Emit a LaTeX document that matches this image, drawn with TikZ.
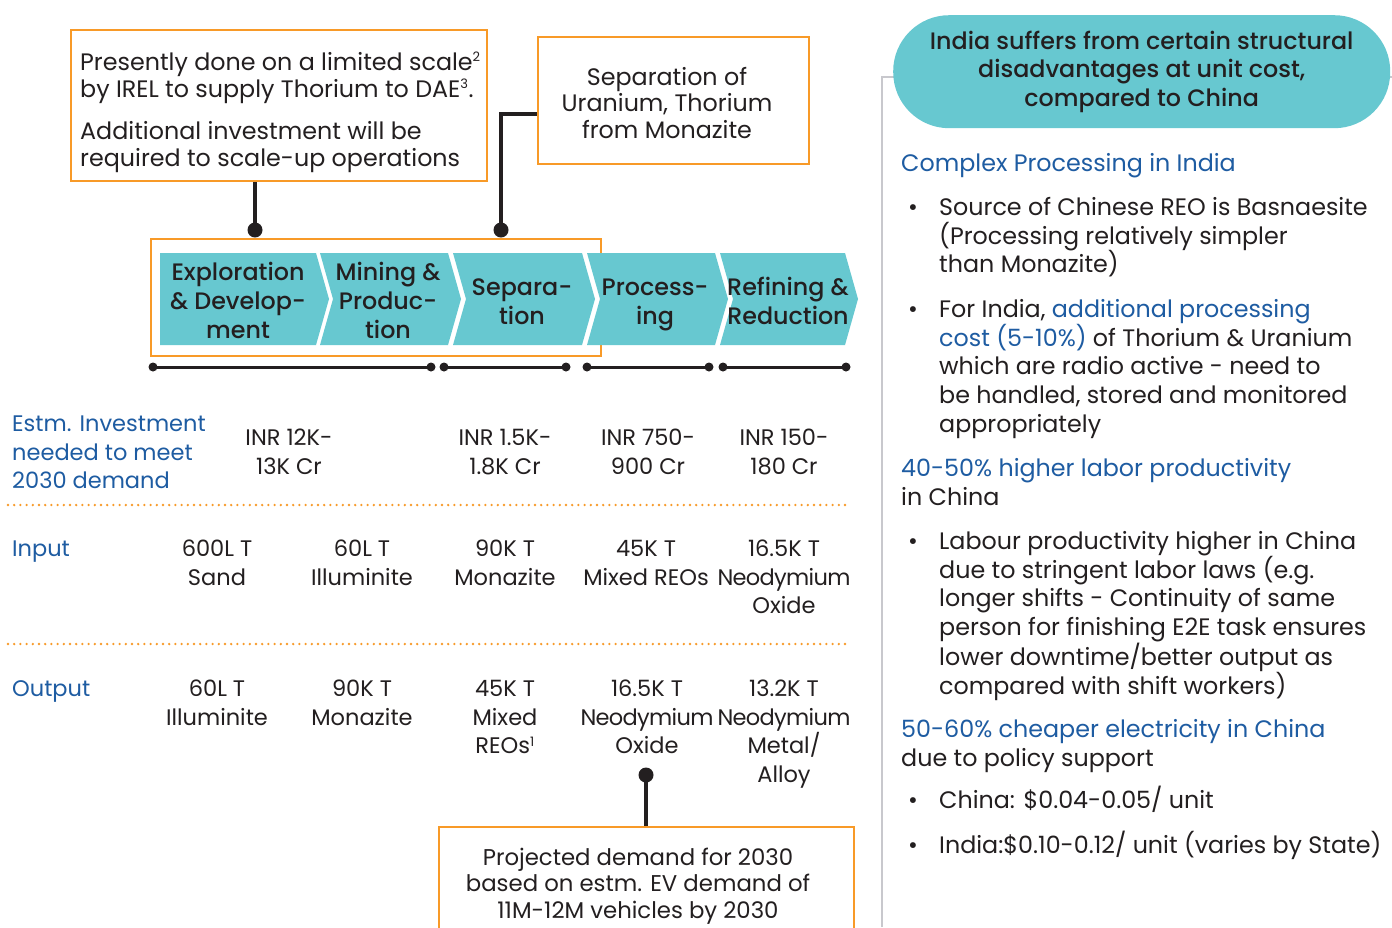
\documentclass[tikz,border=0pt]{standalone}
\usepackage{fontspec}
\setmainfont{Poppins}
\IfFontExistsTF{Poppins Medium}
  {\newfontfamily\medfont{Poppins Medium}}
  {\newfontfamily\medfont{Poppins}[FakeBold=0.6]}
\usetikzlibrary{calc}

\definecolor{teal}{RGB}{103,200,208}
\definecolor{orng}{RGB}{248,154,40}
\definecolor{hblue}{RGB}{30,92,162}
\definecolor{ink}{RGB}{35,31,32}
\definecolor{panelgray}{RGB}{200,200,205}

% body type with a fixed line pitch
\newcommand\fsz{\fontsize{23.8pt}{28.8pt}\selectfont}
\newcommand\ftab{\fontsize{22.5pt}{28.8pt}\selectfont}
\newcommand\fszbox{\fontsize{23.8pt}{26.6pt}\selectfont}
\newcommand\fszdem{\fontsize{22.8pt}{26.6pt}\selectfont}
\newcommand\fszchev{\medfont\fontsize{23.8pt}{29pt}\selectfont}
\newcommand\fszpill{\medfont\fontsize{23.8pt}{28.5pt}\selectfont}
% strut that fixes the top of the first line 20pt above its baseline
\newcommand\fr{\rule{0pt}{20pt}}
% small footnote marks
\newcommand\fnm[1]{\textsuperscript{\fontsize{13pt}{13pt}\selectfont #1}}
% tightly set product name for the narrow table columns
\newcommand\neo{{\addfontfeature{LetterSpace=-3}Neodymium}}

\tikzset{
  txt/.style={inner sep=0pt, text=ink, font=\fsz},
  ml/.style={txt, align=center, anchor=north, yshift=4pt},
  mlw/.style={txt, align=left, anchor=north west, yshift=4pt},
  cell/.style={ml, font=\ftab},
  obox/.style={draw=orng, line width=2pt, inner sep=0pt, anchor=north west},
  chev/.style={fill=teal},
  chtxt/.style={ml, font=\fszchev},
  link/.style={draw=ink, line width=3.5pt},
  tl/.style={draw=ink, line width=3pt},
  sep/.style={draw=orng, line width=2.6pt, line cap=round, dash pattern=on 0pt off 6.2pt},
  lbl/.style={mlw, text=hblue},
  rowlbl/.style={lbl, font=\ftab},
}

\begin{document}
\begin{tikzpicture}[x=1pt, y=-1pt]
\clip (0,0) rectangle (1392,927);
\fill[white] (0,0) rectangle (1392,927);

% ---------- call-out boxes above the value chain ----------
\node[obox, minimum width=416pt, minimum height=151pt] (note1) at (70,29) {};
\node[mlw] (note1txt) at (80,54) {\fr Presently done on a limited scale\fnm{2}\\[-1.8pt]
  by IREL to supply Thorium to DAE\fnm{3}.\\[13.2pt]
  Additional investment will be\\[-1.8pt] required to scale-up operations};

\node[obox, minimum width=271pt, minimum height=127pt] (note2) at (537,36) {};
\node[ml, font=\fszbox] (note2txt) at (667,69) {\fr Separation of\\ Uranium, Thorium\\ from Monazite};

% ---------- value chain ----------
\node[obox, minimum width=450pt, minimum height=117pt] (frame) at (150,238) {};

\coordinate (dot1) at (255,230);
\coordinate (dot2) at (501,230);
\draw[link] (dot1) -- (dot1 |- note1.south);
\draw[link] (dot2) |- ([yshift=-13.5pt]note2.west);
\fill[ink] (dot1) circle (7.5pt);
\fill[ink] (dot2) circle (7.5pt);

\fill[chev] (160,253) -- (316,253) -- (329,299) -- (316,345) -- (160,345) -- cycle;
\foreach \l/\r in {320/448, 453/582, 587/715, 720/845}{
  \fill[chev] (\l,253) -- (\r,253) -- (\r+13,299) -- (\r,345) -- (\l,345) -- (\l+13,299) -- cycle;
}
\node[chtxt] (c1) at (238,264) {\fr Exploration\\ \& Develop-\\ ment};
\node[chtxt] (c2) at (388,264) {\fr Mining \&\\ Produc-\\ tion};
\node[chtxt] (c3) at (522,279) {\fr Separa-\\ tion};
\node[chtxt] (c4) at (655,279) {\fr Process-\\ ing};
\node[chtxt] (c5) at (788,279) {\fr Refining \&\\ Reduction};

% stage spans
\foreach \a/\b in {153/431, 444/566, 587/709, 723/846}{
  \draw[tl] (\a,367) -- (\b,367);
  \fill[ink] (\a,367) circle (4.5pt) (\b,367) circle (4.5pt);
}

% ---------- investment row ----------
\node[rowlbl] (invlbl) at (12,415) {\fr Estm. Investment\\ needed to meet\\ 2030 demand};
\node[cell] (inv1) at (289,429) {\fr INR 12K-\\ 13K Cr};
\node[cell] (inv2) at (505,429) {\fr INR 1.5K-\\ 1.8K Cr};
\node[cell] (inv3) at (648,429) {\fr INR 750-\\ 900 Cr};
\node[cell] (inv4) at (784,429) {\fr INR 150-\\ 180 Cr};

\draw[sep] (8,505) -- (850,505);

% ---------- input row ----------
\node[rowlbl] (inlbl) at (12,540) {\fr Input};
\node[cell] (in1) at (217,540) {\fr 600L T\\ Sand};
\node[cell] (in2) at (362,540) {\fr 60L T\\ Illuminite};
\node[cell] (in3) at (505,540) {\fr 90K T\\ Monazite};
\node[cell] (in4) at (646,540) {\fr 45K T\\ Mixed REOs};
\node[cell] (in5) at (784,540) {\fr 16.5K T\\ \neo\\ Oxide};

\draw[sep] (8,644) -- (850,644);

% ---------- output row ----------
\node[rowlbl] (outlbl) at (12,680) {\fr Output};
\node[cell] (out1) at (217,680) {\fr 60L T\\ Illuminite};
\node[cell] (out2) at (362,680) {\fr 90K T\\ Monazite};
\node[cell] (out3) at (505,680) {\fr 45K T\\ Mixed\\ REOs\fnm{1}};
\node[cell] (out4) at (647,680) {\fr 16.5K T\\ \neo\\ Oxide};
\node[cell] (out5) at (784,680) {\fr 13.2K T\\ \neo\\ Metal/\\ Alloy};

% ---------- demand note ----------
\node[obox, minimum width=415pt, minimum height=120pt] (note3) at (438,826) {};
\coordinate (dot3) at (646,775);
\draw[link] (dot3) -- (dot3 |- note3.north);
\fill[ink] (dot3) circle (7.5pt);
\node[ml, font=\fszdem] (note3txt) at (638,849) {\fr Projected demand for 2030\\ based on estm. EV demand of\\ 11M-12M vehicles by 2030};

% ---------- right panel ----------
\draw[panelgray, line width=2pt] (882,927) -- (882,76.5) -- (1392,76.5);
\node[fill=teal, rounded corners=56pt, minimum width=497pt, minimum height=113pt,
      inner sep=0pt, anchor=north west] (pill) at (893,15) {};
\node[ml, font=\fszpill] (pilltxt) at (pill.center |- 0,33)
  {\fr India suffers from certain structural\\ disadvantages at unit cost,\\ compared to China};

\node[lbl] (h1) at (901,155) {\fr Complex Processing in India};
\node[txt, anchor=base] (d1) at (913,215) {\textbullet};
\node[mlw] (t1) at (939,199) {\fr Source of Chinese REO is Basnaesite\\ (Processing relatively simpler\\ than Monazite)};
\node[txt, anchor=base] (d2) at (913,317) {\textbullet};
\node[mlw] (t2) at (939,301) {\fr For India, {\color{hblue}additional processing}\\
  {\color{hblue}cost (5-10\%)} of Thorium \& Uranium\\ which are radio active - need to\\
  be handled, stored and monitored\\ appropriately};

\node[mlw] (h2) at (901,460) {\fr {\color{hblue}40-50\% higher labor productivity}\\ in China};
\node[txt, anchor=base] (d3) at (913,549) {\textbullet};
\node[mlw] (t3) at (939,533) {\fr Labour productivity higher in China\\ due to stringent labor laws (e.g.\\
  longer shifts - Continuity of same\\ person for finishing E2E task ensures\\
  lower downtime/better output as\\ compared with shift workers)};

\node[mlw] (h3) at (901,721) {\fr {\color{hblue}50-60\% cheaper electricity in China}\\ due to policy support};
\node[txt, anchor=base] (d4) at (913,808) {\textbullet};
\node[txt, anchor=base west] (t4) at (939,808) {China: \$0.04-0.05/ unit};
\node[txt, anchor=base] (d5) at (913,853) {\textbullet};
\node[txt, anchor=base west] (t5) at (939,853) {India:\$0.10-0.12/ unit (varies by State)};
\end{tikzpicture}
\end{document}
